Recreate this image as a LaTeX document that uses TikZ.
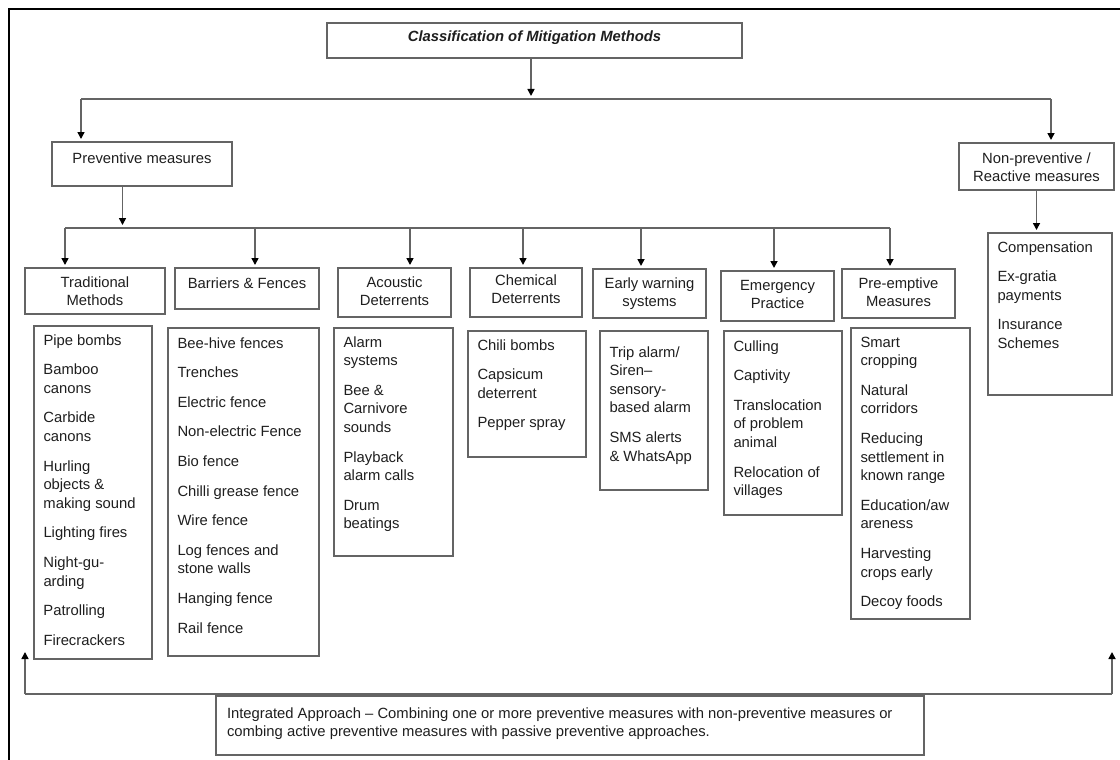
\documentclass[tikz,border=0pt]{standalone}
\usepackage{fontspec}
\setmainfont{Liberation Sans}
\usetikzlibrary{arrows.meta}
\definecolor{boxgray}{RGB}{100,100,100}
\definecolor{txt}{RGB}{30,30,30}
% #1 width, #2 height, #3 first baseline, #4 alignment/font, #5 text
\newcommand{\mbtxt}[5]{\parbox[t][#2pt][t]{#1pt}{\fontsize{14.8}{18.6}\selectfont#4\setlength{\parskip}{11pt}\rule{0pt}{#3pt}\ignorespaces#5}}
\newcommand{\mbleft}{\raggedright\setlength{\leftskip}{9.5pt}}
\tikzset{
  bx/.style={draw=boxgray, line width=1.6pt, inner sep=0pt, outer sep=0pt, anchor=north west, text=txt},
  conn/.style={draw=boxgray, line width=1.6pt},
  arr/.style={conn, -{Triangle[length=7pt,width=7pt,color=black,fill=black]}, shorten >=3pt},
  frame/.style={draw=black, line width=2pt}
}
\begin{document}
\begin{tikzpicture}[x=1pt,y=-1pt]
\useasboundingbox (0,0) rectangle (1120,760);
\draw[frame] (8.6,762) -- (8.6,9) -- (1122,9);

% title and first level
\node[bx] (title) at (327,23) {\mbtxt{415}{35}{19}{\centering\bfseries\itshape}{Classification of Mitigation Methods}};
\node[bx] (prev) at (52,142) {\mbtxt{180}{44}{21}{\centering}{Preventive measures}};
\node[bx] (nonprev) at (959,143) {\mbtxt{155}{47}{20}{\centering}{Non-preventive /\\Reactive measures}};

% categories
\node[bx] (trad)  at (25,268)  {\mbtxt{140}{46}{19}{\centering}{Traditional\\Methods}};
\node[bx] (barr)  at (175,268) {\mbtxt{144}{41}{20}{\centering}{Barriers \& Fences}};
\node[bx] (acou)  at (338,268) {\mbtxt{113}{49}{19}{\centering}{Acoustic\\Deterrents}};
\node[bx] (chem)  at (470,268) {\mbtxt{112}{49}{17}{\centering}{Chemical\\Deterrents}};
\node[bx] (early) at (593,269) {\mbtxt{113}{49}{19}{\centering}{Early warning\\systems}};
\node[bx] (emer)  at (721,271) {\mbtxt{113}{50}{19}{\centering}{Emergency\\Practice}};
\node[bx] (pree)  at (842,269) {\mbtxt{113}{49}{19}{\centering}{Pre-emptive\\Measures}};

% lists
\node[bx] (tradl) at (34,326) {\mbtxt{118}{333}{19}{\mbleft}{%
Pipe bombs\par Bamboo\\canons\par Carbide\\canons\par Hurling\\objects \&\\making sound\par Lighting fires\par Night-gu-\\arding\par Patrolling\par Firecrackers}};
\node[bx] (barrl) at (168,328) {\mbtxt{151}{328}{20}{\mbleft}{%
Bee-hive fences\par Trenches\par Electric fence\par Non-electric Fence\par Bio fence\par Chilli grease fence\par Wire fence\par Log fences and\\stone walls\par Hanging fence\par Rail fence}};
\node[bx] (acoul) at (334,328) {\mbtxt{119}{228}{19}{\mbleft}{%
Alarm\\systems\par Bee \&\\Carnivore\\sounds\par Playback\\alarm calls\par Drum\\beatings}};
\node[bx] (cheml) at (468,331) {\mbtxt{118}{126}{19}{\mbleft}{%
Chili bombs\par Capsicum\\deterrent\par Pepper spray}};
\node[bx] (earlyl) at (600,331) {\mbtxt{108}{159}{26}{\mbleft}{%
Trip alarm/\\Siren--\\sensory-\\based alarm\par SMS alerts\\\& WhatsApp}};
\node[bx] (emerl) at (724,331) {\mbtxt{118}{184}{20}{\mbleft}{%
Culling\par Captivity\par Translocation\\of problem\\animal\par Relocation of\\villages}};
\node[bx] (preel) at (851,328) {\mbtxt{119}{291}{19}{\mbleft}{%
Smart\\cropping\par Natural\\corridors\par Reducing\\settlement in\\known range\par Education/aw\\areness\par Harvesting\\crops early\par Decoy foods}};
\node[bx] (comp) at (988,233) {\mbtxt{124}{162}{19}{\mbleft}{%
Compensation\par Ex-gratia\\payments\par Insurance\\Schemes}};

% integrated approach
\node[bx] (integ) at (216,696) {\mbtxt{708}{59}{22}{\raggedright\setlength{\leftskip}{11pt}}{%
Integrated Approach -- Combining one or more preventive measures with non-preventive measures or\\combing active preventive measures with passive preventive approaches.}};

% connectors, first level
\coordinate (t1) at (531,99);
\coordinate (b1l) at (81,99);
\coordinate (b1r) at (1051,99);
\draw[arr] (title.south -| t1) -- (t1);
\draw[conn] (b1l) -- (b1r);
\draw[arr] (b1l) -- (b1l |- prev.north);
\draw[arr] (b1r) -- (b1r |- nonprev.north);
\draw[arr] (nonprev.south) -- (nonprev.south |- comp.north);

% connectors, categories
\coordinate (b2) at (122.5,228);
\coordinate (b2l) at (65,228);
\coordinate (b2r) at (890,228);
\draw[arr] (prev.south -| b2) -- (b2);
\draw[conn] (b2l) -- (b2r);
\foreach \xx/\nn in {65/trad,255/barr,410/acou,523/chem,641/early,774/emer,890/pree}{
  \coordinate (d\nn) at (\xx,228);
  \draw[arr] (d\nn) -- (d\nn |- \nn.north);
}

% integrated approach feedback
\coordinate (il) at (25,694);
\coordinate (ir) at (1112,694);
\coordinate (ilt) at (25,649);
\coordinate (irt) at (1112,649);
\draw[conn] (il) -- (ir);
\draw[arr] (il) -- (ilt);
\draw[arr] (ir) -- (irt);
\end{tikzpicture}
\end{document}
